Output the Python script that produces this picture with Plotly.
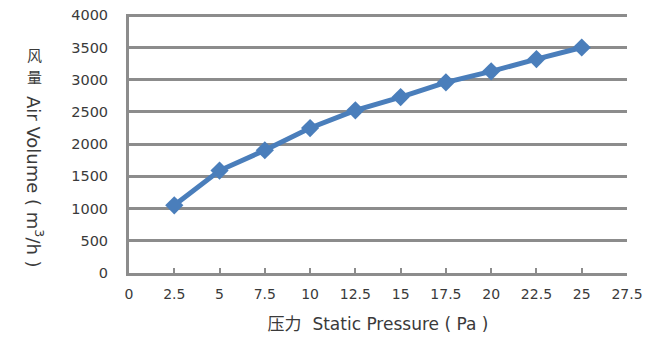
import plotly.graph_objects as go

# static pressure (Pa) vs air volume (m3/h)
pressure = [2.5, 5, 7.5, 10, 12.5, 15, 17.5, 20, 22.5, 25]
air_volume = [1050, 1590, 1905, 2250, 2525, 2730, 2960, 3130, 3320, 3500]

x_ticks = [0, 2.5, 5, 7.5, 10, 12.5, 15, 17.5, 20, 22.5, 25, 27.5]
y_ticks = [0, 500, 1000, 1500, 2000, 2500, 3000, 3500, 4000]

txt = '#3a3a3a'
fig = go.Figure()
fig.add_trace(go.Scatter(
    x=pressure, y=air_volume, mode='lines+markers',
    line=dict(color='#4a7ebb', width=5),
    marker=dict(symbol='diamond', size=14, color='#4a7ebb'),
    showlegend=False, cliponaxis=False,
))

# page has an 8px body margin; keep the figure small enough to avoid scrollbars
fig.update_layout(
    width=643, height=330,
    margin=dict(l=121, r=24, t=6, b=65),
    paper_bgcolor='white', plot_bgcolor='white',
    font=dict(family='DejaVu Sans, sans-serif', size=14.5, color=txt),
    xaxis=dict(
        range=[0, 27.5], tickvals=x_ticks, ticktext=[str(t) for t in x_ticks],
        showgrid=False, zeroline=False, automargin=False,
        showline=True, linecolor='#8c8c8c', linewidth=3,
        ticks='inside', ticklen=5, tickwidth=2, tickcolor='#8c8c8c',
        ticklabelstandoff=6, ticklabeloverflow='allow',
        tickfont=dict(size=14),
        title=dict(text='压力  Static Pressure ( Pa )', standoff=18,
                   font=dict(family='DejaVu Sans, Noto Sans CJK SC, sans-serif', size=17, color=txt)),
        fixedrange=True,
    ),
    yaxis=dict(
        range=[0, 4020], tickvals=y_ticks,
        showgrid=True, gridcolor='#8c8c8c', gridwidth=3,
        zeroline=False, showline=True, linecolor='#8c8c8c', linewidth=3,
        ticks='', ticklabelstandoff=15, automargin=False,
        ticklabeloverflow='allow',
        fixedrange=True,
    ),
)

# y-axis title: upright Chinese characters, then rotated English text
cjk = dict(family='Noto Sans CJK SC, sans-serif', size=15, color=txt)
fig.add_annotation(text='风', xref='paper', yref='paper', x=-0.19, y=0.842,
                   showarrow=False, xanchor='center', yanchor='middle', font=cjk, borderpad=0)
fig.add_annotation(text='量', xref='paper', yref='paper', x=-0.19, y=0.758,
                   showarrow=False, xanchor='center', yanchor='middle', font=cjk, borderpad=0)
fig.add_annotation(
    text='Air Volume ( m<sup>3</sup>/h )', xref='paper', yref='paper', x=-0.19, y=0.35,
    showarrow=False, xanchor='center', yanchor='middle', textangle=90, borderpad=0,
    font=dict(family='DejaVu Sans, sans-serif', size=18, color=txt),
)

fig.write_html("out.html")
